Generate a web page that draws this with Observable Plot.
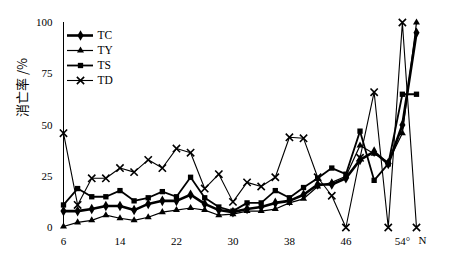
<!DOCTYPE html>
<html><head><meta charset="utf-8">
<script src="https://cdn.jsdelivr.net/npm/d3@7"></script>
<script src="https://cdn.jsdelivr.net/npm/@observablehq/plot@0.6"></script>
<style>
html,body{margin:0;padding:0;background:#fff;}
#wrap{position:relative;width:456px;height:267px;}
#legend{position:absolute;left:62px;top:17px;}
</style></head><body><div id="wrap"><div id="chart"></div><div id="legend"></div></div>
<script>
const latitudes = [6,8,10,12,14,16,18,20,22,24,26,28,30,32,34,36,38,40,42,44,46,48,50,52,54,56];
const seriesNames = ["TC","TY","TS","TD"];
const tcValues = [8,8,9,10.5,10.5,8.5,11.5,13,13,16,11.5,8.5,7.5,9,10,12,13,16,21,21,24,33,37,31,50,95];
const tyValues = [0.5,2.5,3.5,6,4.5,3.5,5,7.5,8.5,9.5,8.5,6,6.5,8,8,9,12,14,20,22,25,40,36,32,46,100];
const tsValues = [11,19,15,15,18,13,14.5,17.5,15,24.5,14.5,10,8,12,12,18,14.5,19.5,24,29,26,47,23,31,65,65];
const tdValues = [46,11,24,24,29,27,33,29,38.5,36.5,19,26,12.5,22,20,24.5,44,43.5,24.5,15.5,0,34,66,0,100,0];
const yTicks = [0,25,50,75,100];
const xTicks = [6,14,22,30,38,46,54];
const xTickLabels = ["6","14","22","30","38","46","54°"];
const yTitle = "消亡率 /%";
const xUnit = "N";

const valuesBySeries = {TC: tcValues, TY: tyValues, TS: tsValues, TD: tdValues};
const style = {
  TC: {symbol: "diamond", sw: 2.6, r: 3.2, filled: true},
  TY: {symbol: "triangle", sw: 1.2, r: 2.6, filled: true},
  TS: {symbol: "square", sw: 1.8, r: 3.0, filled: true},
  TD: {symbol: "times", sw: 1.1, r: 3.4, filled: false}
};
const rows = seriesNames.flatMap(s => latitudes.map((x, i) => ({series: s, x, y: valuesBySeries[s][i]})));

const serif = "'Liberation Serif', 'Times New Roman', serif";
const marks = [
  Plot.ruleX([latitudes[0]], {y1: yTicks[0], y2: yTicks[yTicks.length - 1], stroke: "#000", strokeWidth: 1}),
];
for (const s of ["TD","TY","TS","TC"]) {
  const data = rows.filter(d => d.series === s);
  const st = style[s];
  marks.push(Plot.line(data, {x: "x", y: "y", stroke: "#000", strokeWidth: st.sw, strokeLinejoin: "miter"}));
  marks.push(Plot.dot(data, st.filled
    ? {x: "x", y: "y", symbol: st.symbol, r: st.r, fill: "#000", stroke: "none"}
    : {x: "x", y: "y", symbol: st.symbol, r: st.r, fill: "none", stroke: "#000", strokeWidth: 1.6}));
}
marks.push(
  Plot.axisY({ticks: yTicks, tickSize: 0, tickPadding: 11, label: null, fontSize: 11}),
  Plot.axisX({ticks: xTicks, tickSize: 0, tickPadding: 10, label: null, fontSize: 11,
    tickFormat: d => xTickLabels[xTicks.indexOf(d)]}),
  Plot.text([yTitle], {frameAnchor: "left", rotate: -90, dx: -41, dy: -8, fontSize: 13,
    fontFamily: "'Noto Sans CJK SC', sans-serif", fill: "#000"}),
  Plot.text([xUnit], {x: () => xTicks[xTicks.length - 1], frameAnchor: "bottom", dx: 20, dy: 16, fontSize: 11, fill: "#000"})
);

const chart = Plot.plot({
  width: 456, height: 267,
  marginLeft: 63, marginRight: 40, marginTop: 22, marginBottom: 40,
  x: {domain: [latitudes[0], latitudes[latitudes.length - 1]]},
  y: {domain: [yTicks[0], yTicks[yTicks.length - 1]]},
  style: {fontFamily: serif, fontSize: "11px", color: "#000", background: "#fff"},
  marks
});
document.getElementById("chart").appendChild(chart);

const legendMarks = [];
for (const s of seriesNames) {
  const st = style[s];
  legendMarks.push(Plot.ruleY([s], {y: d => d, x1: 0, x2: 1, stroke: "#000", strokeWidth: st.sw}));
  legendMarks.push(Plot.dot([s], st.filled
    ? {x: () => 0.5, y: d => d, symbol: st.symbol, r: st.r, fill: "#000", stroke: "none"}
    : {x: () => 0.5, y: d => d, symbol: st.symbol, r: st.r, fill: "none", stroke: "#000", strokeWidth: 1.6}));
}
legendMarks.push(Plot.text(seriesNames, {x: () => 1, y: d => d, dx: 4, textAnchor: "start", fontSize: 11.5, fill: "#000"}));
const legend = Plot.plot({
  width: 60, height: 82, margin: 0,
  x: {domain: [0, 1], range: [5, 31], axis: null},
  y: {type: "point", domain: seriesNames, range: [10, 71], axis: null},
  style: {fontFamily: serif, fontSize: "11px", background: "transparent", overflow: "visible"},
  marks: legendMarks
});
document.getElementById("legend").appendChild(legend);
</script></body></html>
